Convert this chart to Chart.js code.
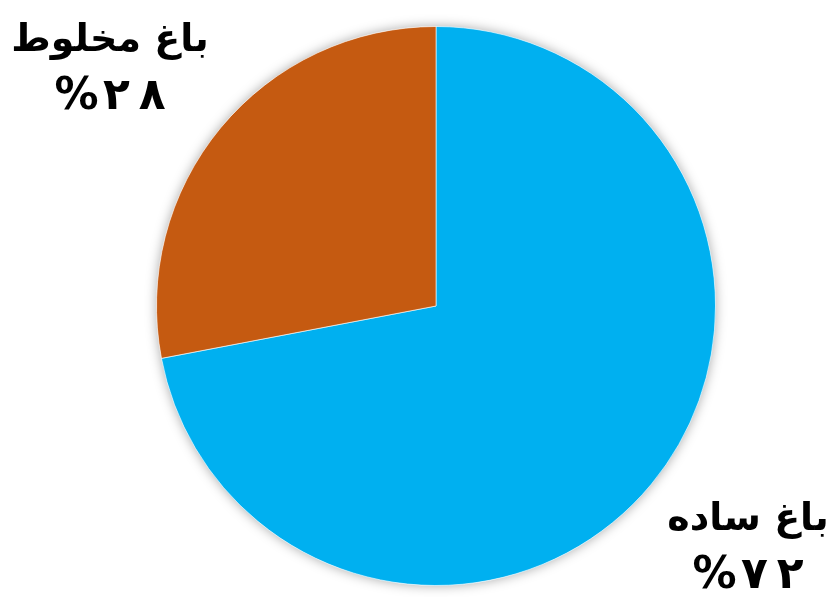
<!DOCTYPE html>
<html><head><meta charset="utf-8">
<script src="https://cdn.jsdelivr.net/npm/chart.js@4/dist/chart.umd.min.js"></script>
<style>html,body{margin:0;padding:0;background:#fff}#wrap{width:833px;height:597px}</style>
</head><body><div id="wrap"><canvas id="c" width="833" height="597"></canvas></div>
<script>
const categories = ['باغ ساده', 'باغ مخلوط'];
const values = [72, 28];
const valueLabels = ['۷۲%', '۲۸%'];
const colors = ['#00B0F0', '#C55A11'];

const labelPos = [{x: 748, y: 520}, {x: 110, y: 41}];

const shadowPlugin = {
  id: 'shadow',
  beforeDatasetsDraw(chart) {
    const arc = chart.getDatasetMeta(0).data[0];
    if (!arc) return;
    const ctx = chart.ctx;
    ctx.save();
    ctx.shadowColor = 'rgba(0,0,0,0.35)';
    ctx.shadowBlur = 12;
    ctx.beginPath();
    ctx.arc(arc.x, arc.y, arc.outerRadius, 0, Math.PI * 2);
    ctx.fillStyle = '#ffffff';
    ctx.fill();
    ctx.restore();
  }
};

// visual order: percent sign on the left, then digits, slightly spaced apart
function visualValue(s) {
  const digits = s.replace('%', '').split('');
  return '\u202D%\u200A' + digits.join('\u2009') + '\u202C';
}

const labelPlugin = {
  id: 'labels',
  afterDraw(chart) {
    const ctx = chart.ctx;
    ctx.save();
    ctx.fillStyle = '#000';
    ctx.textAlign = 'center';
    ctx.textBaseline = 'middle';
    categories.forEach((c, i) => {
      const p = labelPos[i];
      ctx.font = 'bold 38px "DejaVu Sans"';
      ctx.fillText(c, p.x, p.y);
      ctx.font = 'bold 44px "DejaVu Sans"';
      ctx.fillText(visualValue(valueLabels[i]), p.x, p.y + 57);
    });
    ctx.restore();
  }
};

new Chart(document.getElementById('c'), {
  type: 'pie',
  data: {
    labels: categories,
    datasets: [{
      data: values,
      backgroundColor: colors,
      borderColor: 'rgba(255,255,255,0.6)',
      borderWidth: 1
    }]
  },
  options: {
    responsive: false,
    animation: false,
    layout: { padding: { left: 156, right: 117, top: 26, bottom: 11 } },
    plugins: { legend: { display: false }, tooltip: { enabled: false } }
  },
  plugins: [shadowPlugin, labelPlugin]
});
</script></body></html>
